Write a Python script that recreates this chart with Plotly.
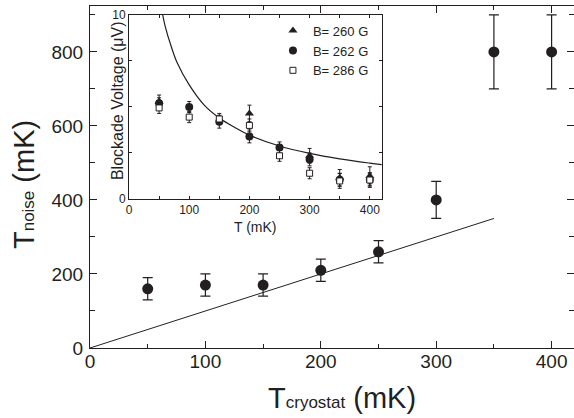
import plotly.graph_objects as go

# ---------------- main data ----------------
t_cryo = [50, 100, 150, 200, 250, 300, 350, 400]
t_noise = [160, 170, 170, 210, 260, 400, 800, 800]
t_noise_err = [30, 30, 30, 30, 30, 50, 100, 100]
line_x = [0, 350]
line_y = [0, 350]

# ---------------- inset data ----------------
b260_t = [50, 200, 300, 350, 400]
b260_v = [5.3, 4.65, 2.35, 1.15, 1.25]
b260_err = [0.35, 0.45, 0.4, 0.45, 0.5]

b262_t = [50, 100, 150, 200, 250, 300, 350, 400]
b262_v = [5.2, 5.0, 4.2, 3.4, 2.8, 2.15, 1.05, 1.05]
b262_err = [0.3, 0.3, 0.35, 0.35, 0.3, 0.35, 0.35, 0.35]

b286_t = [50, 100, 150, 200, 250, 300, 350, 400]
b286_v = [4.95, 4.45, 4.35, 4.0, 2.35, 1.4, 0.98, 1.03]
b286_err = [0.3, 0.3, 0.3, 0.35, 0.3, 0.3, 0.4, 0.4]

fit_t = [56, 60, 70, 80, 100, 125, 150, 175, 200, 250, 300, 350, 400, 420]
fit_v = [10.0, 9.4, 8.3, 7.4, 6.2, 5.1, 4.4, 3.9, 3.47, 2.88, 2.48, 2.18, 1.95, 1.87]

INK = "#231f20"
FONT = "Liberation Sans, Arial, sans-serif"

fig = go.Figure()

# main
fig.add_trace(go.Scatter(x=line_x, y=line_y, mode="lines",
                         line=dict(color=INK, width=1), showlegend=False,
                         xaxis="x", yaxis="y"))
fig.add_trace(go.Scatter(x=t_cryo, y=t_noise, mode="markers",
                         marker=dict(symbol="circle", size=11, color=INK),
                         error_y=dict(type="data", array=t_noise_err, color=INK,
                                      thickness=1.2, width=5),
                         showlegend=False, xaxis="x", yaxis="y", cliponaxis=False))

# inset
fig.add_trace(go.Scatter(x=fit_t, y=fit_v, mode="lines", line_shape="spline",
                         line=dict(color=INK, width=1.2), showlegend=False,
                         xaxis="x2", yaxis="y2"))
fig.add_trace(go.Scatter(x=b260_t, y=b260_v, mode="markers", name="B= 260 G",
                         marker=dict(symbol="triangle-up", size=8, color=INK),
                         error_y=dict(type="data", array=b260_err, color=INK,
                                      thickness=1, width=2),
                         xaxis="x2", yaxis="y2"))
fig.add_trace(go.Scatter(x=b262_t, y=b262_v, mode="markers", name="B= 262 G",
                         marker=dict(symbol="circle", size=8, color=INK),
                         error_y=dict(type="data", array=b262_err, color=INK,
                                      thickness=1, width=2),
                         xaxis="x2", yaxis="y2"))
fig.add_trace(go.Scatter(x=b286_t, y=b286_v, mode="markers", name="B= 286 G",
                         marker=dict(symbol="square", size=6, color="white",
                                     line=dict(color=INK, width=1)),
                         error_y=dict(type="data", array=b286_err, color=INK,
                                      thickness=1, width=2),
                         xaxis="x2", yaxis="y2"))

axis_common = dict(showline=True, linecolor=INK, linewidth=1, mirror="ticks",
                   ticks="inside", tickcolor=INK, showgrid=False, zeroline=False)

fig.update_layout(
    width=574, height=418,
    margin=dict(l=90, r=0, t=6, b=70),
    paper_bgcolor="white", plot_bgcolor="white",
    font=dict(family=FONT, color=INK),
    xaxis=dict(**axis_common, range=[0, 419.4], dtick=100, tick0=0,
               ticklen=7, tickwidth=1,
               minor=dict(ticks="inside", dtick=50, ticklen=4, tickcolor=INK),
               tickfont=dict(size=19, family=FONT, color=INK),
               ticklabelstandoff=-4),
    yaxis=dict(**axis_common, range=[0, 924], dtick=200, tick0=0,
               ticklen=7, tickwidth=1,
               minor=dict(ticks="inside", dtick=100, ticklen=5, tickcolor=INK),
               tickfont=dict(size=19, family=FONT, color=INK),
               ticklabelstandoff=2),
    xaxis2=dict(**axis_common, domain=[0.0806, 0.603], anchor="y2",
                range=[0, 420], dtick=100, tick0=0, ticklen=3, tickwidth=1,
                minor=dict(ticks="inside", dtick=50, ticklen=3, tickcolor=INK),
                tickfont=dict(size=12, family=FONT, color=INK)),
    yaxis2=dict(**axis_common, domain=[0.4357, 0.9737], anchor="x2",
                range=[0, 10], tickvals=[0, 2.5, 5, 7.5, 10],
                ticktext=["0", "", "", "", "10"], ticklen=3, tickwidth=1,
                tickfont=dict(size=12, family=FONT, color=INK)),
    legend=dict(x=0.378, y=0.972, xanchor="left", yanchor="top",
                bgcolor="rgba(0,0,0,0)", font=dict(size=13, family=FONT, color=INK),
                itemwidth=30, tracegroupgap=0),
    annotations=[
        dict(text="T<span style='font-size:17px'>cryostat</span> (mK)",
             xref="paper", yref="paper", x=0.52, y=-0.146, showarrow=False,
             font=dict(size=29, family=FONT, color=INK),
             xanchor="center", yanchor="middle"),
        dict(text="T<span style='font-size:17px'>noise</span> (mK)",
             xref="paper", yref="paper", x=-0.136, y=0.477, showarrow=False,
             textangle=-90, font=dict(size=29, family=FONT, color=INK),
             xanchor="center", yanchor="middle"),
        dict(text="Blockade Voltage (\u03bcV)",
             xref="paper", yref="paper", x=0.0558, y=0.722, showarrow=False,
             textangle=-90, font=dict(size=16, family=FONT, color=INK),
             xanchor="center", yanchor="middle"),
        dict(text="T (mK)",
             xref="paper", yref="paper", x=0.341, y=0.354, showarrow=False,
             font=dict(size=14, family=FONT, color=INK),
             xanchor="center", yanchor="middle"),
    ],
)

fig.write_html("out.html",
               config={"displayModeBar": False},
               post_script="document.body.style.margin='0';document.body.style.padding='0';")
